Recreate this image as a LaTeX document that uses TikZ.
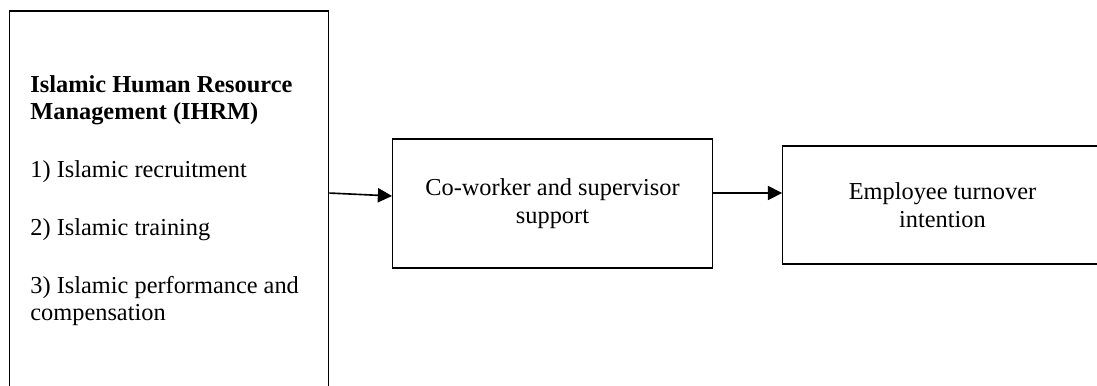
\documentclass[tikz,border=0pt]{standalone}
\usepackage{fontspec}
\setmainfont{Liberation Serif}
\usetikzlibrary{arrows.meta, positioning}

\begin{document}
\begin{tikzpicture}[x=0.4927pt, y=-0.4927pt,
  every node/.style={font=\fontsize{12}{13.5}\selectfont},
  frame/.style={draw, line width=0.6pt, minimum width=157.5pt, inner sep=0pt},
  link/.style={line width=0.8pt, -{Triangle[length=7pt, width=7pt]}}]
 % page size, boxes run past the edges
 \useasboundingbox (0,0) rectangle (1097,386);
 \clip (0,0) rectangle (1097,386);

 % IHRM box with its list
 \node[frame, minimum height=189.2pt] (ihrm) at (169,203) {};
 \node[anchor=north west, align=left, inner sep=0pt] (ihrmtext) at (30,75)
  {\textbf{Islamic Human Resource}\\
   \textbf{Management (IHRM)}\\[15pt]
   1) Islamic recruitment\\[15pt]
   2) Islamic training\\[15pt]
   3) Islamic performance and\\
   compensation};

 % mediator and outcome
 \node[frame, minimum height=63.6pt, align=center] (support) at (552.5,203.5)
  {Co-worker and supervisor\\support};
 \node[frame, minimum height=58.1pt, align=center] (turnover) at (942.5,205)
  {Employee turnover\\intention};

 % arrows
 \draw[link] ([yshift=4.9pt]ihrm.east) -- ([yshift=3.7pt]support.west);
 \draw[link] ([yshift=5.2pt]support.east) -- ([yshift=5.9pt]turnover.west);
\end{tikzpicture}
\end{document}
